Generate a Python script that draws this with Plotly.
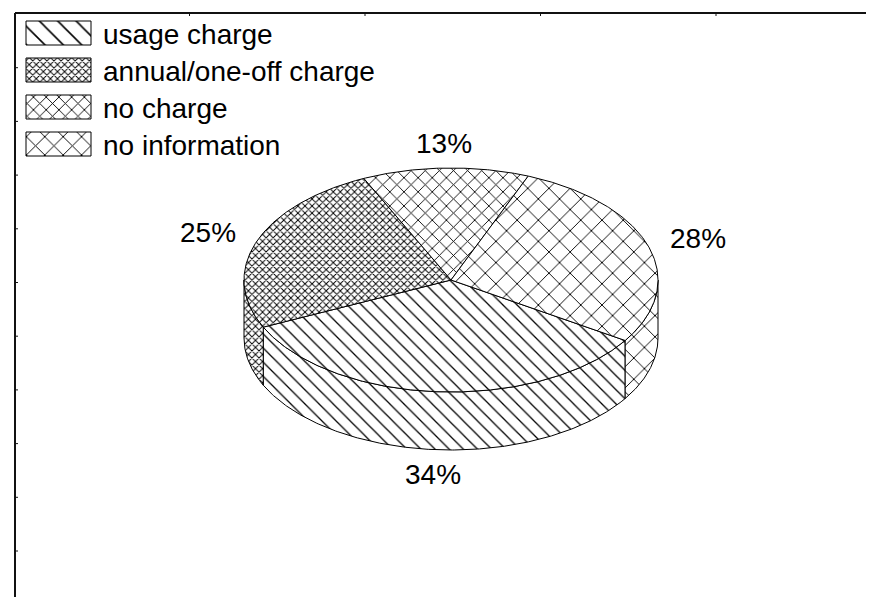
import numpy as np
import plotly.graph_objects as go

# ---------------- data ----------------
categories = ["usage charge", "annual/one-off charge", "no charge", "no information"]
values = [34, 25, 13, 28]
value_labels = [f"{v}%" for v in values]

# ---------------- style / geometry ----------------
W, H = 874, 597
CX, CY, RX, RY, DEPTH = 443, 272, 207, 112, 58
START_DEG = 32.7            # where the first slice begins (screen-parametric angle, clockwise)
LABEL_RX, LABEL_RY = 259, 137
FONT = "Liberation Sans, Arial, sans-serif"
FONT_SIZE = 28

pie_patterns = [
    dict(shape="\\", size=10, solidity=0.13),
    dict(shape="x", size=5, solidity=0.34),
    dict(shape="x", size=10, solidity=0.17),
    dict(shape="x", size=15, solidity=0.12),
]
legend_patterns = [
    dict(shape="\\", size=13, solidity=0.12),
    dict(shape="x", size=5, solidity=0.34),
    dict(shape="x", size=9, solidity=0.19),
    dict(shape="x", size=13, solidity=0.14),
]


def pat(p):
    d = dict(p)
    d.update(fgcolor="black", bgcolor="white", fillmode="replace")
    return d


def arc(a0, a1, dy=0.0, n=None):
    if n is None:
        n = max(int(abs(a1 - a0) * 2), 4)
    t = np.radians(np.linspace(a0, a1, n))
    return CX + RX * np.cos(t), CY + RY * np.sin(t) + dy


fig = go.Figure()

total = float(sum(values))
bounds = START_DEG + np.concatenate([[0], np.cumsum(values)]) / total * 360.0

# ---- side walls (front half only: angles 0..180 and 360..540) ----
for i, cat in enumerate(categories):
    a0, a1 = bounds[i], bounds[i + 1]
    for lo, hi in [(0, 180), (360, 540)]:
        s, e = max(a0, lo), min(a1, hi)
        if e - s <= 0:
            continue
        xt, yt = arc(s, e)
        xb, yb = arc(e, s, DEPTH)
        xs = np.concatenate([xt, xb, xt[:1]])
        ys = np.concatenate([yt, yb, yt[:1]])
        fig.add_trace(go.Scatter(
            x=xs, y=ys, mode="lines", fill="toself",
            fillcolor="white", fillpattern=pat(pie_patterns[i]),
            line=dict(color="black", width=1),
            hoverinfo="skip", showlegend=False, name=cat))

# ---- top faces ----
for i, cat in enumerate(categories):
    a0, a1 = bounds[i], bounds[i + 1]
    xa, ya = arc(a0, a1)
    xs = np.concatenate([[CX], xa, [CX]])
    ys = np.concatenate([[CY], ya, [CY]])
    fig.add_trace(go.Scatter(
        x=xs, y=ys, mode="lines", fill="toself",
        fillcolor="white", fillpattern=pat(pie_patterns[i]),
        line=dict(color="black", width=1),
        hoverinfo="text", text=f"{cat}: {values[i]}%", showlegend=False, name=cat))

# ---- percentage labels ----
for i in range(len(values)):
    mid = np.radians((bounds[i] + bounds[i + 1]) / 2)
    lx = CX + LABEL_RX * np.cos(mid)
    ly = CY + LABEL_RY * np.sin(mid) + (DEPTH if np.sin(mid) > 0 else 0)
    fig.add_annotation(x=lx, y=ly, text=value_labels[i], showarrow=False,
                       xanchor="center", yanchor="middle",
                       font=dict(family=FONT, size=FONT_SIZE, color="black"))

# ---- legend (drawn) ----
LEG_X0, LEG_W, LEG_Y0, LEG_H, LEG_STEP, LEG_TX = 18, 65, 13, 24, 37, 93
for i, cat in enumerate(categories):
    y0 = LEG_Y0 + i * LEG_STEP
    fig.add_trace(go.Scatter(
        x=[LEG_X0, LEG_X0 + LEG_W, LEG_X0 + LEG_W, LEG_X0, LEG_X0],
        y=[y0, y0, y0 + LEG_H, y0 + LEG_H, y0],
        mode="lines", fill="toself", fillcolor="white",
        fillpattern=pat(legend_patterns[i]),
        line=dict(color="black", width=1),
        hoverinfo="skip", showlegend=False))
    fig.add_annotation(x=LEG_TX, y=y0 + LEG_H / 2 + 1, text=cat, showarrow=False,
                       xanchor="left", yanchor="middle",
                       font=dict(family=FONT, size=FONT_SIZE, color="black"))

# ---- frame ----
shapes = [
    dict(type="line", x0=7, x1=W, y0=5, y1=5, line=dict(color="#111", width=2)),
    dict(type="line", x0=7, x1=7, y0=5, y1=H, line=dict(color="#111", width=2)),
    dict(type="line", x0=7, x1=W, y0=H - 1, y1=H - 1, line=dict(color="#dddddd", width=2)),
]
for k in range(1, 11):
    yy = 6 + 53.7 * k
    shapes.append(dict(type="line", x0=8, x1=10, y0=yy, y1=yy, line=dict(color="#111", width=1)))
for k in range(1, 5):
    xx = 6 + 175.5 * k
    shapes.append(dict(type="line", x0=xx, x1=xx, y0=5, y1=8, line=dict(color="#111", width=1)))
    shapes.append(dict(type="line", x0=xx, x1=xx, y0=H - 3, y1=H - 1, line=dict(color="#cccccc", width=1)))
for s in shapes:
    s.update(xref="x", yref="y", layer="above")

fig.update_layout(
    width=W, height=H, autosize=False,
    margin=dict(l=0, r=0, t=0, b=0),
    paper_bgcolor="white", plot_bgcolor="white",
    showlegend=False,
    xaxis=dict(range=[0, W], visible=False, fixedrange=True),
    yaxis=dict(range=[H, 0], visible=False, fixedrange=True),
    shapes=shapes,
    font=dict(family=FONT),
)

fig.write_html("out.html")
